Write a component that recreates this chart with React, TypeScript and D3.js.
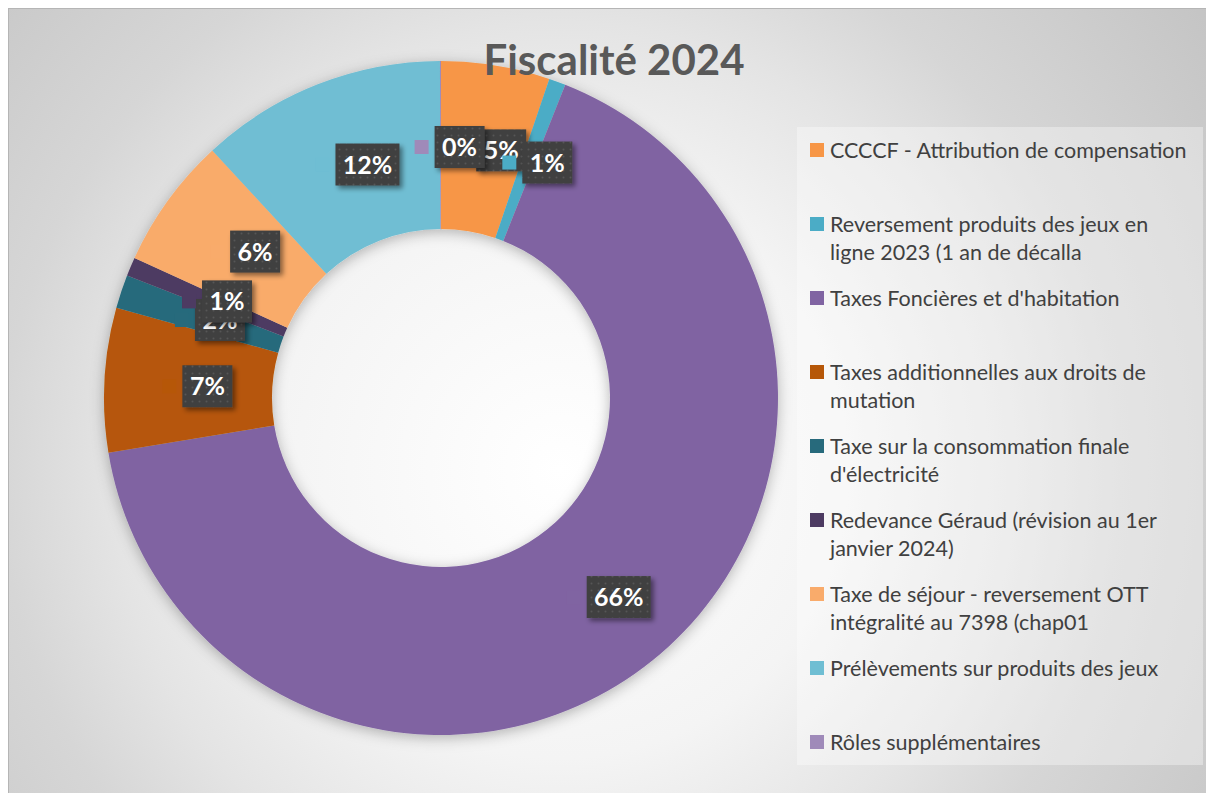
import React from 'react'
import * as d3 from 'd3'

// page coordinates (body margin is 8px, the group below shifts back)
const width = 1206
const height = 785
const center = { x: 441, y: 398 }
const outerR = 337
const innerR = 169

const categories = [
  'CCCCF - Attribution de compensation',
  'Reversement produits des jeux en ligne 2023 (1 an de décalla',
  "Taxes Foncières et d'habitation",
  'Taxes additionnelles aux droits de mutation',
  "Taxe sur la consommation finale d'électricité",
  'Redevance Géraud (révision au 1er janvier 2024)',
  'Taxe de séjour - reversement OTT intégralité au 7398 (chap01',
  'Prélèvements sur produits des jeux',
  'Rôles supplémentaires',
]
// share of the total, in %
const values = [5.2, 0.8, 66.3, 6.9, 1.6, 0.9, 6.3, 11.8, 0.05]
const colors = [
  '#F79646',
  '#4BACC6',
  '#8064A2',
  '#B65708',
  '#276A7C',
  '#4D3B62',
  '#F9AB6B',
  '#6FBED3',
  '#9F8AB9',
]
// words on the first legend line (0 = no wrap)
const legendBreaks = [0, 5, 0, 5, 5, 5, 6, 0, 0]

const font = 'Lato, "Open Sans", sans-serif'

function splitLabel(label: string, n: number) {
  if (!n) return [label]
  const w = label.split(' ')
  return [w.slice(0, n).join(' '), w.slice(n).join(' ')]
}

export default function App() {
  const total = d3.sum(values)
  const pie = d3
    .pie<number>()
    .sort(null)
    .value((d) => d)
  const arcs = pie(values)
  const arc = d3
    .arc<d3.PieArcDatum<number>>()
    .innerRadius(innerR)
    .outerRadius(outerR)

  const legendY = d3
    .scalePoint<number>()
    .domain(d3.range(categories.length))
    .range([150, 742])

  return (
    <svg width={width} height={height} style={{ display: 'block' }}>
      <defs>
        <radialGradient id="bg" gradientUnits="userSpaceOnUse" cx="560" cy="470" r="800">
          <stop offset="0" stopColor="#ffffff" />
          <stop offset="0.36" stopColor="#f4f4f4" />
          <stop offset="0.56" stopColor="#e4e4e4" />
          <stop offset="0.7" stopColor="#d6d6d6" />
          <stop offset="1" stopColor="#c4c4c4" />
        </radialGradient>
        <pattern id="dots" width="7" height="7" patternUnits="userSpaceOnUse">
          <rect width="7" height="7" fill="#404040" />
          <circle cx="3.5" cy="3.5" r="1" fill="#575757" />
        </pattern>
        <filter id="shadow" x="-20%" y="-20%" width="150%" height="160%">
          <feDropShadow dx="3" dy="3" stdDeviation="2.5" floodColor="#000" floodOpacity="0.45" />
        </filter>
        <filter id="ringShadow" x="-10%" y="-10%" width="120%" height="120%">
          <feDropShadow dx="0" dy="3" stdDeviation="7" floodColor="#000" floodOpacity="0.28" />
        </filter>
      </defs>
      <g transform="translate(-8,-8)">
        <rect x={8.5} y={8.5} width={width} height={height} fill="url(#bg)" stroke="#b5b5b5" />

        <g transform={`translate(${center.x},${center.y})`}>
          <g filter="url(#ringShadow)">
            {arcs.map((a, i) => (
              <path key={categories[i]} d={arc(a) || ''} fill={colors[i]} />
            ))}
          </g>
        </g>

        <text
          x={614}
          y={75}
          textAnchor="middle"
          fontFamily={font}
          fontWeight={700}
          fontSize={42}
          fill="#595959"
        >
          Fiscalité 2024
        </text>

        <g transform={`translate(${center.x},${center.y})`}>
          {arcs.map((a, i) => {
            const [cx, cy] = arc.centroid(a)
            const txt = `${Math.round((a.data / total) * 100)}%`
            const bw = txt.length * 14 + 22
            const bh = 42
            const bx = cx + 19 - bw / 2
            const by = cy + 2 - bh / 2
            return (
              <g key={'lbl' + i}>
                <rect x={bx - 20} y={by + bh / 2 - 7} width={14} height={14} fill={colors[i]} />
                <rect x={bx} y={by} width={bw} height={bh} fill="url(#dots)" filter="url(#shadow)" />
                <text
                  x={bx + bw / 2}
                  y={by + bh / 2 + 9}
                  textAnchor="middle"
                  fontFamily={font}
                  fontWeight={700}
                  fontSize={25}
                  fill="#ffffff"
                >
                  {txt}
                </text>
              </g>
            )
          })}
        </g>

        <rect x={797} y={127} width={406} height={638} fill="#ffffff" fillOpacity={0.35} />
        {categories.map((c, i) => {
          const y = legendY(i) as number
          const lines = splitLabel(c, legendBreaks[i])
          return (
            <g key={'leg' + i}>
              <rect x={810} y={y - 7} width={14} height={14} fill={colors[i]} />
              <text fontFamily={font} fontSize={21.5} fill="#404040">
                {lines.map((l, j) => (
                  <tspan key={j} x={830} y={y + 7.5 + j * 28.5}>
                    {l}
                  </tspan>
                ))}
              </text>
            </g>
          )
        })}
      </g>
    </svg>
  )
}
